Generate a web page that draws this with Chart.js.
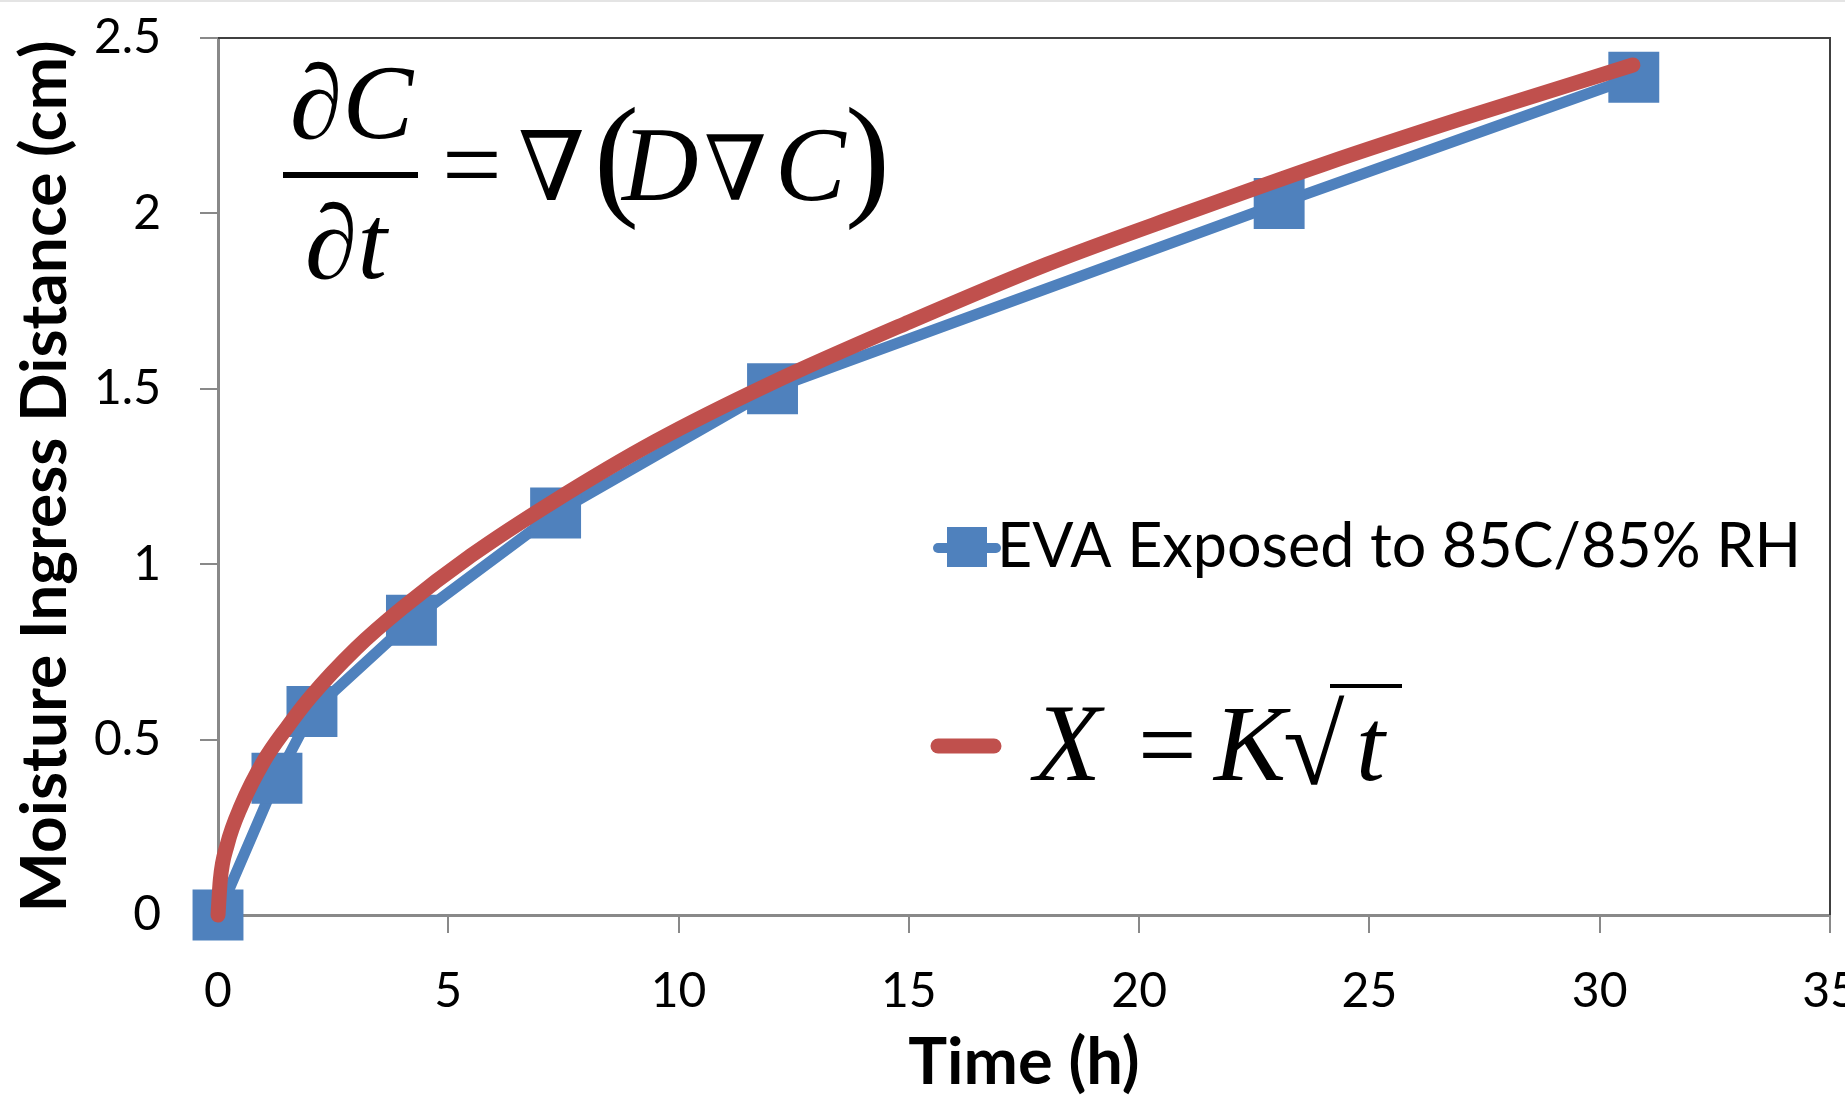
<!DOCTYPE html>
<html>
<head>
<meta charset="utf-8">
<script src="https://cdn.jsdelivr.net/npm/chart.js@4.4.1/dist/chart.umd.min.js"></script>
<style>
  html, body { margin: 0; padding: 0; background: #fff; overflow: hidden; }
  #wrap { width: 1845px; height: 1102px; }
</style>
</head>
<body>
<div id="wrap"><canvas id="grafico" width="1845" height="1102"></canvas></div>
<script>
// medidas (h, cm)
const tempoEva = [0, 1.28, 2.04, 4.2, 7.33, 12.04, 23.04, 30.74];
const distEva = [0, 0.39, 0.58, 0.84, 1.146, 1.50, 2.028, 2.388];

// curva X = K*sqrt(t)
const tempoAjuste = [0, 0.05, 0.2, 0.5, 1, 1.5, 2, 3, 4, 5.5, 7.3, 9.5, 12, 15, 18, 21, 24, 27, 30.72];
const distAjuste = [0, 0.1, 0.2, 0.31, 0.44, 0.535, 0.62, 0.76, 0.875, 1.025, 1.18, 1.35, 1.515, 1.69, 1.855, 2.0, 2.14, 2.27, 2.423];

const ticksX = ['0', '5', '10', '15', '20', '25', '30', '35'];
const ticksY = ['0', '0.5', '1', '1.5', '2', '2.5'];

const legendaEva = 'EVA Exposed to 85C/85% RH';
const tituloX = 'Time (h)';
const tituloY = 'Moisture Ingress Distance (cm)';

const AZUL = '#4F81BD';
const VERMELHO = '#C0504D';
const EIXO = '#898989';

Chart.defaults.font.family = 'Lato';
Chart.defaults.color = '#000';

const SERIF = "'Liberation Serif', 'DejaVu Serif', serif";

function linha(ctx, x1, y1, x2, y2) {
  ctx.beginPath();
  ctx.moveTo(x1, y1);
  ctx.lineTo(x2, y2);
  ctx.stroke();
}

function texto(ctx, s, x, y, font) {
  ctx.font = font;
  ctx.fillText(s, x, y);
}

/* =========================
   MOLDURA, LEGENDA, EQUACOES
========================= */
const anotacoes = {
  id: 'anotacoes',
  beforeDatasetsDraw(chart) {
    const { ctx, chartArea: a } = chart;
    ctx.save();
    ctx.strokeStyle = '#e4e4e4';
    ctx.lineWidth = 2;
    linha(ctx, 0, 1, chart.width, 1);
    ctx.strokeStyle = '#404040';
    ctx.lineWidth = 2;
    ctx.beginPath();
    ctx.moveTo(a.left, a.top);
    ctx.lineTo(a.right, a.top);
    ctx.lineTo(a.right, a.bottom);
    ctx.stroke();
    ctx.restore();
  },
  afterDatasetsDraw(chart) {
    const ctx = chart.ctx;
    const eva = chart.data.datasets[0];
    const ajuste = chart.data.datasets[1];
    ctx.save();
    ctx.textBaseline = 'alphabetic';
    ctx.textAlign = 'left';

    // legenda
    ctx.lineCap = 'round';
    ctx.strokeStyle = eva.borderColor;
    ctx.lineWidth = 10;
    linha(ctx, 938, 548, 996, 548);
    ctx.fillStyle = eva.pointBackgroundColor;
    ctx.fillRect(947, 527, 40, 40);
    ctx.fillStyle = '#000';
    texto(ctx, legendaEva, 997, 567, '61px Lato');

    ctx.strokeStyle = ajuste.borderColor;
    ctx.lineWidth = 15;
    linha(ctx, 938, 746, 994, 746);

    ctx.fillStyle = '#000';
    texto(ctx, 'X', 1034, 780, 'italic 110px ' + SERIF);
    texto(ctx, '=', 1138, 780, '104px ' + SERIF);
    texto(ctx, 'K', 1214, 780, 'italic 108px ' + SERIF);
    texto(ctx, '\u221A', 1283, 784, '112px ' + SERIF);
    ctx.strokeStyle = '#000';
    ctx.lineWidth = 4;
    ctx.lineCap = 'butt';
    linha(ctx, 1330, 686, 1402, 686);
    texto(ctx, 't', 1356, 780, 'italic 104px ' + SERIF);

    // equacao de difusao
    texto(ctx, '\u2202C', 290, 138, 'italic 106px ' + SERIF);
    ctx.fillRect(283, 172, 135, 6);
    texto(ctx, '\u2202t', 305, 278, 'italic 106px ' + SERIF);
    texto(ctx, '=', 442, 200, '106px ' + SERIF);
    texto(ctx, '\u2207', 518, 200, '96px ' + SERIF);
    texto(ctx, '(', 594, 201, '135px ' + SERIF);
    texto(ctx, 'D', 622, 200, 'italic 106px ' + SERIF);
    texto(ctx, '\u2207', 704, 200, '90px ' + SERIF);
    texto(ctx, 'C', 775, 200, 'italic 106px ' + SERIF);
    texto(ctx, ')', 845, 201, '135px ' + SERIF);

    ctx.restore();
  }
};

new Chart(document.getElementById('grafico'), {
  type: 'line',
  data: {
    datasets: [
      {
        label: legendaEva,
        data: tempoEva.map((t, i) => ({ x: t, y: distEva[i] })),
        borderColor: AZUL,
        borderWidth: 11,
        pointStyle: 'rect',
        pointRadius: 36,
        pointBackgroundColor: AZUL,
        pointBorderColor: AZUL,
        pointBorderWidth: 0,
        tension: 0,
        clip: false,
        order: 1
      },
      {
        label: 'X = K\u221At',
        data: tempoAjuste.map((t, i) => ({ x: t, y: distAjuste[i] })),
        borderColor: VERMELHO,
        borderWidth: 15,
        borderCapStyle: 'round',
        pointRadius: 0,
        cubicInterpolationMode: 'monotone',
        clip: false,
        order: 0
      }
    ]
  },
  options: {
    responsive: false,
    animation: false,
    layout: { autoPadding: false, padding: { top: 38, right: 15, left: 0, bottom: 0 } },
    plugins: {
      legend: { display: false },
      tooltip: { enabled: false }
    },
    scales: {
      x: {
        type: 'linear',
        min: 0,
        max: 35,
        ticks: {
          stepSize: 5,
          padding: 30,
          font: { size: 48 },
          maxRotation: 0,
          callback: (v, i) => ticksX[i]
        },
        grid: { drawOnChartArea: false, tickLength: 18, color: EIXO, lineWidth: 2 },
        border: { color: EIXO, width: 3 },
        title: {
          display: true,
          text: tituloX,
          font: { size: 65, weight: 'bold', lineHeight: 1.2 },
          padding: { top: 0, bottom: 0 }
        },
        afterFit: (s) => { s.height = 187; s.paddingLeft = 0; s.paddingRight = 0; }
      },
      y: {
        min: 0,
        max: 2.5,
        ticks: {
          stepSize: 0.5,
          padding: 39,
          font: { size: 48 },
          callback: (v, i) => ticksY[i]
        },
        grid: { drawOnChartArea: false, tickLength: 18, color: EIXO, lineWidth: 2 },
        border: { color: EIXO, width: 3 },
        title: {
          display: true,
          text: tituloY,
          font: { size: 64, weight: 'bold', lineHeight: 1.2 },
          padding: { top: 7, bottom: 0 }
        },
        afterFit: (s) => { s.width = 218; s.paddingTop = 0; s.paddingBottom = 0; }
      }
    }
  },
  plugins: [anotacoes]
});
</script>
</body>
</html>
